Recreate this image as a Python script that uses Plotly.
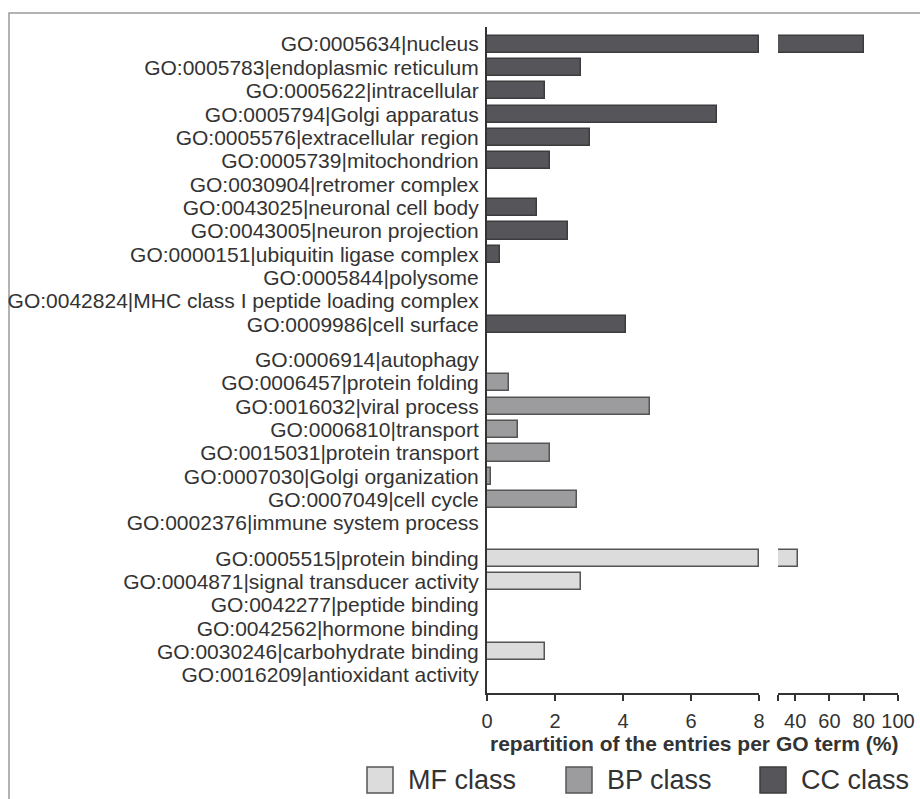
import plotly.graph_objects as go

# ---------------- data ----------------
cc_terms = [
    "GO:0005634|nucleus",
    "GO:0005783|endoplasmic reticulum",
    "GO:0005622|intracellular",
    "GO:0005794|Golgi apparatus",
    "GO:0005576|extracellular region",
    "GO:0005739|mitochondrion",
    "GO:0030904|retromer complex",
    "GO:0043025|neuronal cell body",
    "GO:0043005|neuron projection",
    "GO:0000151|ubiquitin ligase complex",
    "GO:0005844|polysome",
    "GO:0042824|MHC class I peptide loading complex",
    "GO:0009986|cell surface",
]
cc_values = [80.0, 2.77, 1.72, 6.77, 3.04, 1.84, 0, 1.47, 2.37, 0.38, 0, 0, 4.10]

bp_terms = [
    "GO:0006914|autophagy",
    "GO:0006457|protein folding",
    "GO:0016032|viral process",
    "GO:0006810|transport",
    "GO:0015031|protein transport",
    "GO:0007030|Golgi organization",
    "GO:0007049|cell cycle",
    "GO:0002376|immune system process",
]
bp_values = [0, 0.65, 4.78, 0.92, 1.84, 0.12, 2.65, 0]

mf_terms = [
    "GO:0005515|protein binding",
    "GO:0004871|signal transducer activity",
    "GO:0042277|peptide binding",
    "GO:0042562|hormone binding",
    "GO:0030246|carbohydrate binding",
    "GO:0016209|antioxidant activity",
]
mf_values = [41.4, 2.77, 0, 0, 1.71, 0]

class_names = ["MF class", "BP class", "CC class"]
left_ticks = [0, 2, 4, 6, 8]
right_ticks = [30, 40, 60, 80, 100]
right_ticklabels = ["", "40", "60", "80", "100"]
x_title = "repartition of the entries per GO term (%)"

# ---------------- style / layout ----------------
LEFT_MAX = 8
RIGHT_MIN, RIGHT_MAX = 30, 100
W, H = 920, 799
ML, MR, MT, MB = 487, 22, 27, 106
PW, PH = W - ML - MR, H - MT - MB
GROUP_GAP = 0.5
TEXT = "#333333"
FONT = "Liberation Sans, Arial, sans-serif"

colors = {"CC class": "#56565a", "BP class": "#9c9c9e", "MF class": "#dcdcdc"}
lines = {"CC class": "#3c3c3e", "BP class": "#555555", "MF class": "#555555"}


def px_x(p):
    return (p - ML) / PW


def px_y(p):
    return (H - MB - p) / PH


groups = [("CC class", cc_terms, cc_values),
          ("BP class", bp_terms, bp_values),
          ("MF class", mf_terms, mf_values)]

positions, labels = [], []
pos = 0.0
group_pos = {}
for gi, (cname, terms, vals) in enumerate(groups):
    if gi > 0:
        pos += GROUP_GAP
    ps = []
    for t in terms:
        ps.append(pos)
        positions.append(pos)
        labels.append(t)
        pos += 1
    group_pos[cname] = ps
last = positions[-1]

fig = go.Figure()
for cname, terms, vals in groups:
    ys = group_pos[cname]
    fig.add_trace(go.Bar(
        name=cname, orientation="h", y=ys,
        x=[min(v, LEFT_MAX) for v in vals],
        xaxis="x", yaxis="y", width=0.73,
        marker=dict(color=colors[cname], line=dict(color=lines[cname], width=1.5)),
        showlegend=False, hoverinfo="skip",
    ))
    big_y = [y for y, v in zip(ys, vals) if v > LEFT_MAX]
    big_x = [v - RIGHT_MIN for v in vals if v > LEFT_MAX]
    if big_y:
        fig.add_trace(go.Bar(
            name=cname, orientation="h", y=big_y, x=big_x, base=RIGHT_MIN,
            xaxis="x2", yaxis="y", width=0.73,
            marker=dict(color=colors[cname], line=dict(color=lines[cname], width=1.5)),
            showlegend=False, hoverinfo="skip",
        ))

split_left = px_x(759)
split_right = px_x(778)

axis_common = dict(showline=True, linecolor=TEXT, linewidth=2, ticks="outside",
                   ticklen=6, tickwidth=2, tickcolor=TEXT, showgrid=False,
                   zeroline=False, tickfont=dict(size=20, color=TEXT, family=FONT),
                   ticklabelstandoff=3)

shapes = [
    dict(type="rect", xref="paper", yref="paper",
         x0=px_x(9), x1=px_x(930), y0=px_y(810), y1=px_y(13),
         line=dict(color="#9a9a9a", width=1.5), fillcolor="rgba(0,0,0,0)", layer="below"),
]
annotations = [
    dict(text="<b>" + x_title + "</b>", xref="paper", yref="paper",
         x=px_x(694), y=px_y(743), showarrow=False, xanchor="center", yanchor="middle",
         font=dict(size=21, color=TEXT, family=FONT)),
]
legend_box_x = {"MF class": 367, "BP class": 566, "CC class": 760}
for cname in class_names:
    bx = legend_box_x[cname]
    shapes.append(dict(type="rect", xref="paper", yref="paper",
                       x0=px_x(bx), x1=px_x(bx + 26), y0=px_y(793), y1=px_y(767),
                       fillcolor=colors[cname], line=dict(color=lines[cname], width=1.5)))
    annotations.append(dict(text=cname, xref="paper", yref="paper",
                            x=px_x(bx + 39), y=px_y(780), showarrow=False,
                            xanchor="left", yanchor="middle",
                            font=dict(size=27, color=TEXT, family=FONT)))

fig.update_layout(
    width=W, height=H,
    margin=dict(l=ML, r=MR, t=MT, b=MB, pad=0),
    paper_bgcolor="white", plot_bgcolor="white",
    barmode="overlay", bargap=0,
    font=dict(family=FONT, color=TEXT),
    xaxis=dict(domain=[0, split_left], range=[0, LEFT_MAX], tickvals=left_ticks,
               anchor="y", automargin=False, **axis_common),
    xaxis2=dict(domain=[split_right, 1], range=[RIGHT_MIN, RIGHT_MAX],
                tickvals=right_ticks, ticktext=right_ticklabels, anchor="y",
                automargin=False, **axis_common),
    yaxis=dict(range=[last + 0.77, -0.73], tickvals=positions, ticktext=labels,
               showline=True, linecolor=TEXT, linewidth=2, ticks="", showgrid=False,
               zeroline=False, automargin=False, anchor="x",
               tickfont=dict(size=21, color=TEXT, family=FONT), ticklabelstandoff=2),
    shapes=shapes,
    annotations=annotations,
    showlegend=False,
)

fig.write_html("out.html")
